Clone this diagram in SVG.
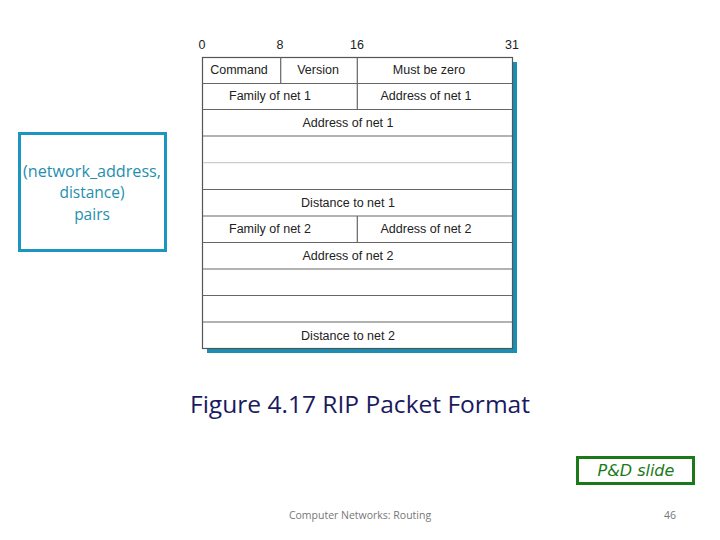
<svg xmlns="http://www.w3.org/2000/svg" width="720" height="540" viewBox="0 0 720 540">
<style>
.t{font-family:"Liberation Sans",Arial,sans-serif;font-size:12.5px;fill:#222;text-anchor:middle}
.ln{stroke:#666;stroke-width:1.2;fill:none}
.lt{stroke:#ccc;stroke-width:1.2;fill:none}
.pb{font-family:"Open Sans","Liberation Sans",sans-serif;font-size:15.5px;fill:#1e8fb0;text-anchor:middle}
</style>
<rect width="720" height="540" fill="#fff"/>
<g id="bits">
<text class="t" x="202" y="49">0</text>
<text class="t" x="280" y="49">8</text>
<text class="t" x="357" y="49">16</text>
<text class="t" x="512" y="49">31</text>
</g>
<g id="packet">
<rect x="207" y="62" width="310" height="291" fill="#1a8fb5"/>
<rect x="202.5" y="57.5" width="310" height="291" fill="#fff" stroke="#555" stroke-width="1.2"/>
</g>
<g id="connectors">
<path class="ln" d="M202.5 83.5H512.5M202.5 109.5H512.5M202.5 136H512.5M202.5 189.5H512.5M202.5 216H512.5M202.5 242.5H512.5M202.5 269H512.5M202.5 295.5H512.5M202.5 322H512.5"/>
<path class="lt" d="M203 162.7H512"/>
<path class="ln" d="M280.7 57.5V83.5M357.3 57.5V109.5M357.3 216V242.5"/>
</g>
<g id="fields">
<text class="t" x="239" y="74">Command</text>
<text class="t" x="318" y="74">Version</text>
<text class="t" x="429" y="74">Must be zero</text>
<text class="t" x="270" y="100">Family of net 1</text>
<text class="t" x="426" y="100">Address of net 1</text>
<text class="t" x="348" y="127">Address of net 1</text>
<text class="t" x="348" y="207">Distance to net 1</text>
<text class="t" x="270" y="233">Family of net 2</text>
<text class="t" x="426" y="233">Address of net 2</text>
<text class="t" x="348" y="260">Address of net 2</text>
<text class="t" x="348" y="340">Distance to net 2</text>
</g>
<g id="pairs">
<rect x="19.5" y="133.5" width="146" height="117" fill="none" stroke="#1a96c0" stroke-width="3"/>
<text class="pb" x="92" y="177" textLength="138" lengthAdjust="spacingAndGlyphs">(network_address,</text>
<text class="pb" x="92" y="198">distance)</text>
<text class="pb" x="92" y="220">pairs</text>
</g>
<g id="caption">
<text x="360" y="413" font-family="Open Sans,Liberation Sans,sans-serif" font-size="23" fill="#1a1a60" text-anchor="middle" textLength="340" lengthAdjust="spacingAndGlyphs">Figure 4.17 RIP Packet Format</text>
</g>
<g id="pd">
<rect x="577.5" y="457.5" width="116" height="26" fill="none" stroke="#1a7a1a" stroke-width="3"/>
<text x="636" y="476" font-family="DejaVu Sans,sans-serif" font-style="italic" font-size="16" fill="#1a7a1a" text-anchor="middle">P&amp;D slide</text>
</g>
<g id="footer">
<text x="360" y="519" font-family="Open Sans,Liberation Sans,sans-serif" font-size="10.5" fill="#777" text-anchor="middle">Computer Networks: Routing</text>
<text x="670" y="519" font-family="Open Sans,Liberation Sans,sans-serif" font-size="10.5" fill="#777" text-anchor="middle">46</text>
</g>
</svg>
